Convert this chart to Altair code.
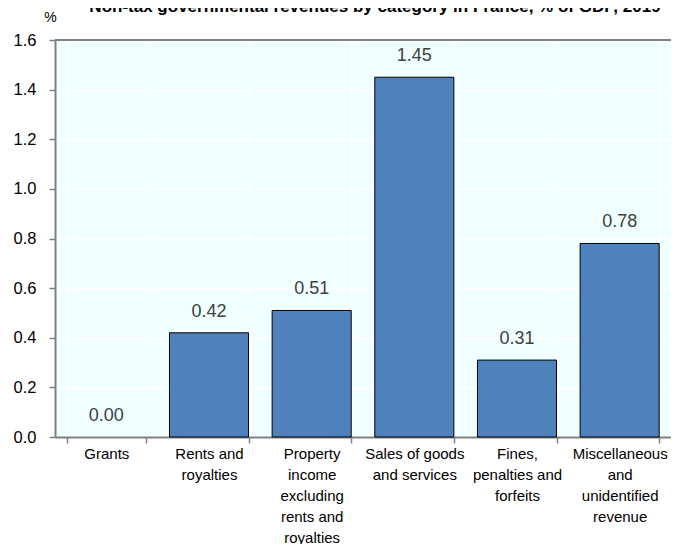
import altair as alt
import pandas as pd

categories = [
    "Grants",
    "Rents and\nroyalties",
    "Property\nincome\nexcluding\nrents and\nroyalties",
    "Sales of goods\nand services",
    "Fines,\npenalties and\nforfeits",
    "Miscellaneous\nand\nunidentified\nrevenue",
]
values = [0.00, 0.42, 0.51, 1.45, 0.31, 0.78]
title_text = "Non-tax governmental revenues by category in France, % of GDP, 2019"

df = pd.DataFrame({"category": categories, "value": values})

FONT = "Liberation Sans, Arial"

x = alt.X(
    "category:N",
    sort=categories,
    scale=alt.Scale(paddingInner=0.23, paddingOuter=0.115),
    axis=alt.Axis(
        title=None,
        labelAngle=0,
        labelExpr="split(datum.label, '\\n')",
        labelFont=FONT,
        labelFontSize=15,
        labelColor="#000000",
        labelLineHeight=21,
        labelPadding=3,
        labelBaseline="top",
        tickBand="extent",
        tickSize=6,
        tickColor="#808080",
        tickWidth=1.5,
        domainColor="#808080",
        domainWidth=2,
        grid=True,
        gridColor="#FFFFFF",
        gridWidth=1.5,
    ),
)

y = alt.Y(
    "value:Q",
    scale=alt.Scale(domain=[0, 1.6], nice=False),
    axis=alt.Axis(
        title="%",
        titleAngle=0,
        titleX=-5,
        titleY=-16,
        titleAlign="center",
        titleFont=FONT,
        titleFontSize=14,
        titleFontWeight="normal",
        titleColor="#000000",
        values=[0, 0.2, 0.4, 0.6, 0.8, 1.0, 1.2, 1.4, 1.6],
        format=".1f",
        labelFont=FONT,
        labelFontSize=16.5,
        labelColor="#000000",
        labelPadding=13,
        tickSize=6,
        tickColor="#808080",
        tickWidth=1.5,
        domainColor="#808080",
        domainWidth=2,
        grid=True,
        gridColor="#FFFFFF",
        gridWidth=1.5,
    ),
)

top_border = alt.Chart(pd.DataFrame({"t": [0]})).mark_rule(color="#808080", strokeWidth=2).encode(
    x=alt.value(0), x2=alt.value("width"), y=alt.value(0)
)

bars = alt.Chart(df).mark_bar(color="#4F81BD", strokeWidth=1).encode(
    x=x,
    y=y,
    stroke=alt.condition(alt.datum.value > 0, alt.value("#000000"), alt.value("transparent")),
)

labels = alt.Chart(df).mark_text(
    font=FONT, fontSize=18, color="#404040", baseline="alphabetic", dy=-16
).encode(x=alt.X("category:N", sort=categories), y="value:Q", text=alt.Text("value:Q", format=".2f"))

title = alt.Chart(pd.DataFrame({"t": [title_text]})).mark_text(
    font=FONT, fontSize=17, fontWeight="bold", color="#000000",
    align="center", baseline="alphabetic"
).encode(x=alt.value(320), y=alt.value(-28), text="t:N")

chart = alt.layer(top_border, bars, labels, title).properties(
    width=616,
    height=397,
    autosize=alt.AutoSizeParams(type="none"),
    padding={"left": 47, "top": 32, "right": 0, "bottom": 110},
).configure_view(
    fill="#F0FFFF", strokeWidth=0
)

chart.save("out.html", embed_options={"renderer": "svg", "actions": False})
